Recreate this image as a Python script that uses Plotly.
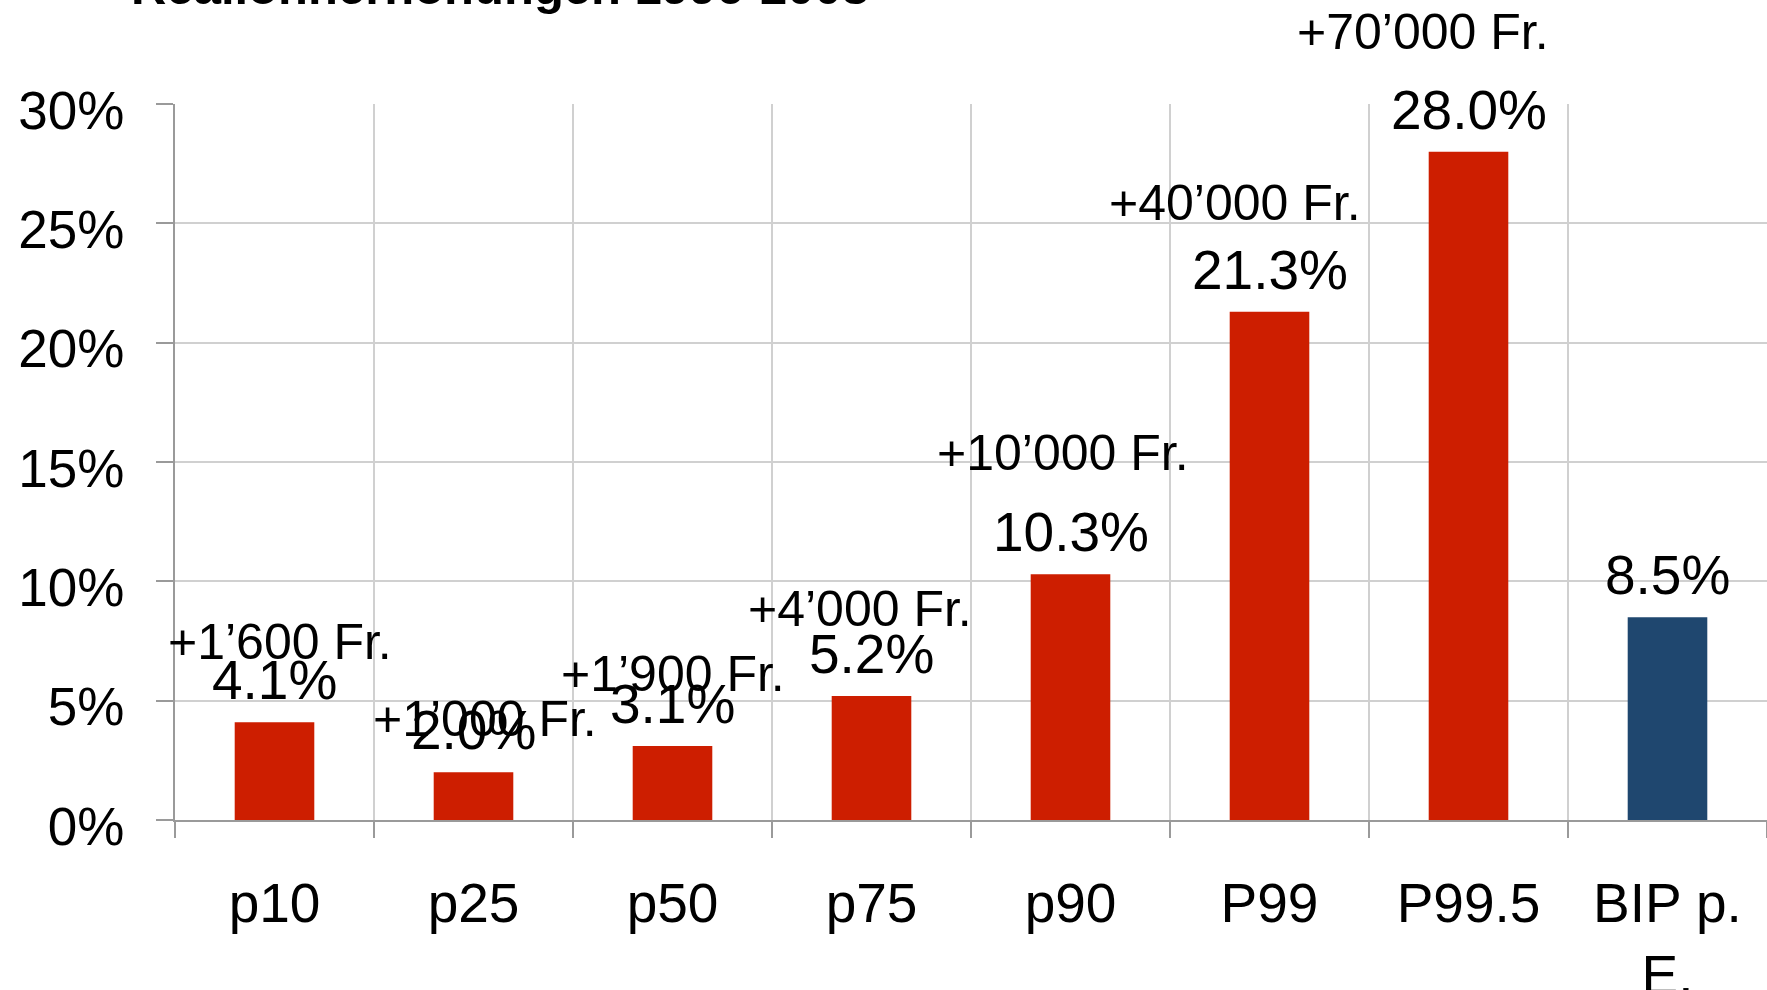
import plotly.graph_objects as go

# Reallohnerhöhungen nach Lohnperzentil, verglichen mit BIP pro Einwohner
categories = ["p10", "p25", "p50", "p75", "p90", "P99", "P99.5", "BIP p.<br>E."]
growth_pct = [4.1, 2.0, 3.1, 5.2, 10.3, 21.3, 28.0, 8.5]
chf_gain = ["+1’600 Fr.", "+1’000 Fr.", "+1’900 Fr.", "+4’000 Fr.",
            "+10’000 Fr.", "+40’000 Fr.", "+70’000 Fr."]

# placement of the Franken call-outs (offset from bar centre, height in %)
chf_dx = [0.03, 0.06, 0.0, -0.06, -0.04, -0.175, -0.23]
chf_y = [7.45, 4.25, 6.13, 8.82, 15.38, 25.85, 33.0]

RED = "#cd1e00"
BLUE = "#1f476f"
FONT = "Liberation Sans, Arial, sans-serif"
FS_VALUE = 55
FS_CHF = 50
FS_XTICK = 55
FS_YTICK = 53

W, H = 1767, 990
L, R, T, B = 175, 0, 104, 170
Y_MAX = 30

x_idx = list(range(len(categories)))
colors = [RED] * (len(categories) - 1) + [BLUE]

fig = go.Figure(go.Bar(
    x=x_idx, y=growth_pct, width=0.4,
    marker=dict(color=colors, line=dict(width=0)),
    hoverinfo="skip",
))

annotations = []
# value labels above each bar
for i, v in enumerate(growth_pct):
    annotations.append(dict(
        x=i, y=v, xref="x", yref="y", text=f"{v:.1f}%", showarrow=False,
        yanchor="middle", yshift=42,
        font=dict(family=FONT, size=FS_VALUE, color="black"),
    ))
# Franken call-outs
for i, (txt, dx, yy) in enumerate(zip(chf_gain, chf_dx, chf_y)):
    annotations.append(dict(
        x=i + dx, y=yy / Y_MAX, xref="x", yref="paper", text=txt,
        showarrow=False, yanchor="middle",
        font=dict(family=FONT, size=FS_CHF, color="black"),
    ))
# title (runs off the top edge)
plot_w = W - L - R
plot_h = H - T - B
annotations.append(dict(
    x=(129 - L) / plot_w, y=(H - B - 16) / plot_h, xref="paper", yref="paper",
    xanchor="left", yanchor="bottom", showarrow=False,
    text="<b>Reallohnerhöhungen 1996-2008</b>",
    font=dict(family=FONT, size=49, color="black"),
))

fig.update_layout(
    width=W, height=H,
    margin=dict(l=L, r=R, t=T, b=B, autoexpand=False),
    paper_bgcolor="white", plot_bgcolor="white",
    showlegend=False,
    annotations=annotations,
    font=dict(family=FONT, size=FS_XTICK, color="black"),
)

fig.update_xaxes(
    range=[-0.5, len(categories) - 0.5],
    tickvals=x_idx, ticktext=categories,
    ticks="", showgrid=False, zeroline=False, automargin=False,
    showline=True, linecolor="#9a9a9a", linewidth=2,
    ticklabelstandoff=34,
    tickfont=dict(family=FONT, size=FS_XTICK, color="black"),
    minor=dict(
        tickvals=[i - 0.5 for i in range(len(categories) + 1)],
        showgrid=True, gridcolor="#d0d0d0", gridwidth=2,
        ticks="outside", ticklen=16, tickcolor="#9a9a9a", tickwidth=2,
    ),
)

fig.update_yaxes(
    range=[0, Y_MAX], tickvals=[0, 5, 10, 15, 20, 25, 30],
    ticktext=["0%", "5%", "10%", "15%", "20%", "25%", "30%"],
    showgrid=True, gridcolor="#d0d0d0", gridwidth=2, zeroline=False,
    automargin=False,
    showline=True, linecolor="#9a9a9a", linewidth=2,
    ticks="outside", ticklen=17, tickcolor="#9a9a9a", tickwidth=2,
    ticklabelstandoff=21, ticklabelshift=6,
    tickfont=dict(family=FONT, size=FS_YTICK, color="black"),
)

fig.write_html("out.html")
